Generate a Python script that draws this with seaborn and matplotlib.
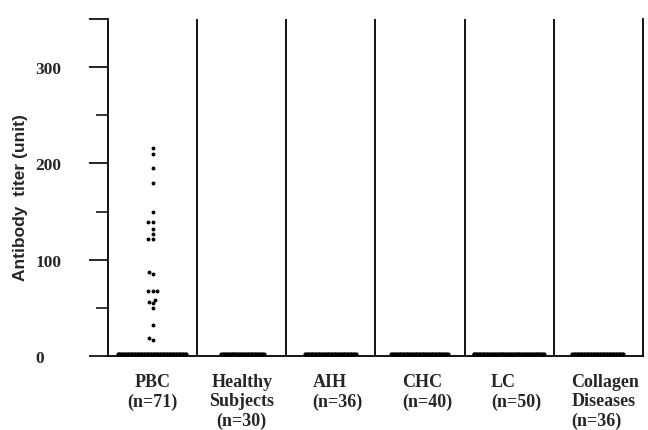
import numpy as np
import pandas as pd
import matplotlib.pyplot as plt
import matplotlib.transforms as mtransforms
import seaborn as sns

sns.set_style("ticks")
plt.rcParams["font.family"] = ["Liberation Serif", "DejaVu Serif"]

# Groups and their sizes
groups = ["PBC", "Healthy", "AIH", "CHC", "LC", "Collagen"]
group_labels = ["PBC\n(n=71)", "Healthy\nSubjects\n(n=30)", "AIH\n(n=36)",
                "CHC\n(n=40)", "LC\n(n=50)", "Collagen\nDiseases\n(n=36)"]
group_n = [71, 30, 36, 40, 50, 36]

# PBC sera above background (unit)
pbc_positive = [216, 210, 195, 180, 150, 139, 139, 132, 127, 121, 121,
                87, 85, 67, 67, 67, 58, 56, 55, 50, 32, 19, 17]
# everything else sits on the baseline
background_titer = 2

# y ticks (the top one has no label)
ytick_values = [0, 100, 200, 300, 350]
ytick_labels = ["0", "100", "200", "300", ""]
yminor_values = [50, 150, 250]

pos_df = pd.DataFrame({"group": "PBC", "titer": pbc_positive})
neg_counts = [n - (len(pbc_positive) if g == "PBC" else 0) for g, n in zip(groups, group_n)]
neg_df = pd.DataFrame({"group": np.repeat(groups, neg_counts), "titer": background_titer})

fig = plt.figure(figsize=(6.48, 4.31), dpi=100)
ax = fig.add_axes([108 / 648, 74 / 431, 535 / 648, 337 / 431])

# baseline sera: swarm them with tiny markers so each band is as wide as its n
n_before = len(ax.collections)
sns.swarmplot(data=neg_df, x="group", y="titer", order=groups, size=1.0,
              color="black", linewidth=0, ax=ax, clip_on=False)
band_colls = ax.collections[n_before:]

# positive PBC sera
sns.swarmplot(data=pos_df, x="group", y="titer", order=groups, size=2.8,
              color="black", linewidth=0, ax=ax)

ax.set_xlim(-0.5, 5.5)
ax.set_ylim(0, 350)

# column separators
for x in np.arange(0.5, 5.5, 1):
    ax.axvline(x, color="black", lw=1.3, zorder=0)

ax.spines["top"].set_visible(False)
for side in ["left", "right", "bottom"]:
    ax.spines[side].set_linewidth(1.3)
    ax.spines[side].set_color("black")

# y axis
ax.set_yticks(ytick_values)
ax.set_yticklabels(ytick_labels)
ax.set_yticks(yminor_values, minor=True)
ax.tick_params(axis="y", which="major", length=14, width=1.2, pad=38.5,
               labelsize=12.5, color="black")
ax.tick_params(axis="y", which="minor", length=9, width=1.1, color="black")
for lab in ax.get_yticklabels():
    lab.set_ha("left")
    lab.set_fontweight("bold")

# x axis
ax.set_xticks(range(len(groups)))
ax.set_xticklabels(group_labels, fontsize=13, fontweight="bold")
ax.tick_params(axis="x", length=0, pad=12)
shift = mtransforms.ScaledTranslation(5 / 72, 0, fig.dpi_scale_trans)
for i, lab in enumerate(ax.get_xticklabels()):
    if i < 2:
        lab.set_multialignment("center")
    else:
        lab.set_multialignment("left")
        lab.set_transform(lab.get_transform() + shift)

ax.set_xlabel("")
ax.set_ylabel("Antibody  titer (unit)", family=["Liberation Sans"],
              fontweight="bold", fontsize=12.5)
ax.yaxis.set_label_coords(-0.1495, 0.472)

# lay the swarm out once, then keep that layout and draw the dots thicker
fig.canvas.draw()
for coll in band_colls:
    if "draw" in coll.__dict__:
        del coll.draw
    coll.set_sizes([3.0 ** 2])

fig.savefig("out.png", dpi=100)
